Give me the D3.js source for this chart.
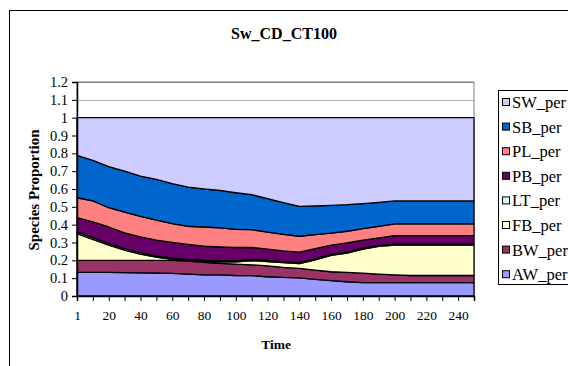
<!DOCTYPE html>
<html><head><meta charset="utf-8">
<script src="https://cdn.jsdelivr.net/npm/d3@7"></script>
<style>
html,body{margin:0;padding:0;background:#fff;}
svg{display:block;}
svg text{font-family:"Liberation Serif","Times New Roman",Times,Tinos,"DejaVu Serif",serif !important;}
</style></head>
<body>
<svg id="chart" width="568" height="366"></svg>
<script>
const times = [1,10,20,30,40,50,60,70,80,90,100,110,120,130,140,150,160,170,180,190,200,210,220,230,240,250];
const AW_per = [.132,.132,.132,.131,.130,.129,.127,.123,.119,.119,.115,.114,.108,.104,.102,.093,.086,.080,.075,.075,.075,.075,.075,.075,.075,.075];
const BW_per = [.068,.068,.068,.069,.070,.071,.073,.072,.069,.064,.064,.061,.061,.056,.053,.052,.050,.052,.053,.048,.044,.040,.040,.040,.040,.040];
const FB_per = [.150,.117,.085,.057,.035,.018,.005,.004,.006,.009,.012,.024,.024,.027,.027,.058,.092,.109,.135,.155,.166,.170,.170,.170,.170,.170];
const LT_per = [.010,.010,.009,.009,.008,.007,.007,.006,.006,.006,.006,.006,.006,.006,.006,.006,.006,.006,.006,.006,.006,.006,.006,.006,.006,.006];
const PB_per = [.080,.088,.093,.088,.088,.088,.088,.084,.079,.078,.075,.067,.064,.060,.058,.057,.051,.051,.044,.042,.048,.048,.048,.048,.048,.048];
const PL_per = [.111,.118,.108,.117,.116,.112,.106,.102,.108,.106,.102,.100,.095,.093,.089,.078,.067,.065,.065,.065,.065,.065,.065,.065,.065,.065];
const SB_per = [.237,.227,.231,.229,.225,.229,.224,.220,.213,.210,.205,.196,.188,.177,.168,.161,.156,.149,.140,.134,.129,.129,.129,.129,.129,.129];
const SW_per = [.212,.240,.274,.300,.328,.346,.370,.389,.400,.408,.421,.432,.454,.477,.497,.495,.492,.488,.482,.475,.467,.467,.467,.467,.467,.467];
const seriesNames = ["AW_per","BW_per","FB_per","LT_per","PB_per","PL_per","SB_per","SW_per"];
const seriesValues = [AW_per,BW_per,FB_per,LT_per,PB_per,PL_per,SB_per,SW_per];
const colors = ["#9999FF","#993366","#FFFFCC","#CCFFFF","#660066","#FF8080","#0066CC","#CCCCFF"];
const yTicks = [0,0.1,0.2,0.3,0.4,0.5,0.6,0.7,0.8,0.9,1,1.1,1.2];
const title = "Sw_CD_CT100";
const xTitle = "Time";
const yTitle = "Species Proportion";

const svg = d3.select("#chart");
svg.append("rect").attr("x",9.5).attr("y",10.5).attr("width",600).attr("height",400)
  .attr("fill","#fff").attr("stroke","#000").attr("stroke-width",1);

const L=77, R=474, T=82, B=296;
const x = d3.scalePoint().domain(times).range([L,R]);
const y = d3.scaleLinear().domain([0,1.2]).range([B,T]);

svg.append("rect").attr("x",L).attr("y",T).attr("width",R-L).attr("height",B-T)
  .attr("fill","#fff").attr("stroke","#808080").attr("stroke-width",1);
svg.append("g").selectAll("line").data(yTicks.slice(1)).join("line")
  .attr("x1",L).attr("x2",R).attr("y1",d=>Math.round(y(d))+0.5).attr("y2",d=>Math.round(y(d))+0.5)
  .attr("stroke","#808080").attr("stroke-width",d=>d===1.2?1:0.6);

const table = times.map((t,i)=>{const o={time:t}; seriesNames.forEach((n,k)=>o[n]=seriesValues[k][i]); return o;});
const layers = d3.stack().keys(seriesNames)(table);
const area = d3.area().x(d=>x(d.data.time)).y0(d=>y(d[0])).y1(d=>y(d[1]));
svg.append("g").selectAll("path").data(layers).join("path")
  .attr("d",area).attr("fill",(d,i)=>colors[i]).attr("stroke","#000").attr("stroke-width",1.3)
  .attr("stroke-linejoin","round");

const yAxis = d3.axisLeft(y).tickValues(yTicks).tickSize(5).tickPadding(4).tickFormat(d=>String(+d.toFixed(1)));
const gy = svg.append("g").attr("transform",`translate(${L},0)`).call(yAxis);
gy.select(".domain").attr("stroke","#000").attr("stroke-width",1.5);
gy.selectAll(".tick line").attr("stroke","#000");
gy.selectAll("text").attr("font-size",14.5).attr("fill","#000");

const xAxis = d3.axisBottom(x).tickSize(5).tickPadding(9).tickFormat((d,i)=> i%2===0 ? d : "");
const gx = svg.append("g").attr("transform",`translate(0,${B})`).call(xAxis);
gx.select(".domain").attr("stroke","#000").attr("stroke-width",1.5);
gx.selectAll(".tick line").attr("stroke","#000");
gx.selectAll("text").attr("font-size",13.5).attr("fill","#000");

svg.append("text").attr("x",284).attr("y",39).attr("text-anchor","middle")
  .attr("font-size",16).attr("font-weight","bold").text(title);
svg.append("text").attr("x",276).attr("y",349).attr("text-anchor","middle")
  .attr("font-size",13.5).attr("font-weight","bold").text(xTitle);
svg.append("text").attr("transform","translate(39,190) rotate(-90)").attr("text-anchor","middle")
  .attr("font-size",15).attr("font-weight","bold").text(yTitle);

const lg = svg.append("g");
lg.append("rect").attr("x",498.5).attr("y",90.5).attr("width",100).attr("height",194)
  .attr("fill","#fff").attr("stroke","#000").attr("stroke-width",1);
const legendOrder = seriesNames.map((n,i)=>({n,c:colors[i]})).reverse();
const items = lg.selectAll("g").data(legendOrder).join("g")
  .attr("transform",(d,i)=>`translate(502,${103+i*24.6})`);
items.append("rect").attr("x",0.5).attr("y",-4.5).attr("width",7).attr("height",7)
  .attr("fill",d=>d.c).attr("stroke","#000").attr("stroke-width",1);
items.append("text").attr("x",10).attr("y",5).attr("font-size",16.5).text(d=>d.n);
</script>
</body></html>
